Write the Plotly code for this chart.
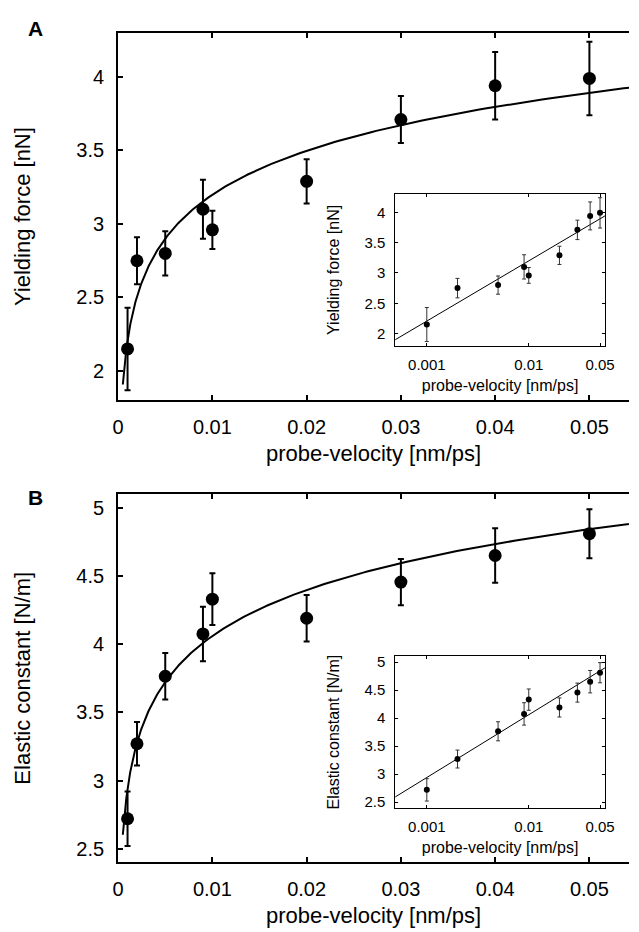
import numpy as np
import plotly.graph_objects as go

# ---- data ----
velocity = [0.001, 0.002, 0.005, 0.009, 0.01, 0.02, 0.03, 0.04, 0.05]
yield_force = [2.15, 2.75, 2.80, 3.10, 2.96, 3.29, 3.71, 3.94, 3.99]
yield_force_err = [0.28, 0.16, 0.15, 0.20, 0.13, 0.15, 0.16, 0.23, 0.25]
elastic_const = [2.72, 3.27, 3.765, 4.075, 4.33, 4.19, 4.455, 4.65, 4.81]
elastic_const_err = [0.20, 0.16, 0.17, 0.20, 0.19, 0.17, 0.17, 0.20, 0.18]
# logarithmic fits: y = a + b*log10(v)
force_fit = [5.183, 0.992]
elastic_fit = [6.30, 1.12]

main_xticks = [0, 0.01, 0.02, 0.03, 0.04, 0.05]
main_xticklabels = ["0", "0.01", "0.02", "0.03", "0.04", "0.05"]
inset_xticks = [0.001, 0.01, 0.05]
inset_xticklabels = ["0.001", "0.01", "0.05"]
force_yticks = [2, 2.5, 3, 3.5, 4]
elastic_yticks = [2.5, 3, 3.5, 4, 4.5, 5]

W, H = 639, 932
FONT = "Liberation Sans, Arial, Helvetica, sans-serif"

def fx(px):
    return px / W

def fy(py):
    return 1 - py / H

fig = go.Figure()

v_main = np.logspace(np.log10(0.0005), np.log10(0.06), 300)
v_ins = np.logspace(np.log10(0.00045), np.log10(0.06), 300)

def add_panel(y, yerr, fit, xa_main, ya_main, xa_ins, ya_ins):
    vm = np.asarray(velocity)
    # main
    fig.add_trace(go.Scatter(x=v_main, y=fit[0] + fit[1] * np.log10(v_main), mode="lines",
                             line=dict(color="black", width=2), xaxis=xa_main, yaxis=ya_main,
                             showlegend=False, hoverinfo="skip"))
    fig.add_trace(go.Scatter(x=vm, y=y, mode="markers",
                             marker=dict(color="black", size=13),
                             error_y=dict(type="data", array=yerr, color="black", thickness=2, width=3),
                             xaxis=xa_main, yaxis=ya_main, showlegend=False))
    # inset
    fig.add_trace(go.Scatter(x=v_ins, y=fit[0] + fit[1] * np.log10(v_ins), mode="lines",
                             line=dict(color="black", width=1), xaxis=xa_ins, yaxis=ya_ins,
                             showlegend=False, hoverinfo="skip"))
    fig.add_trace(go.Scatter(x=vm, y=y, mode="markers",
                             marker=dict(color="black", size=6),
                             error_y=dict(type="data", array=yerr, color="#333333", thickness=1, width=2),
                             xaxis=xa_ins, yaxis=ya_ins, showlegend=False))

add_panel(yield_force, yield_force_err, force_fit, "x", "y", "x2", "y2")
add_panel(elastic_const, elastic_const_err, elastic_fit, "x3", "y3", "x4", "y4")

main_ax = dict(showline=True, linecolor="black", linewidth=2, ticks="inside", ticklen=5,
               tickwidth=2, tickcolor="black", showgrid=False, zeroline=False,
               tickfont=dict(family=FONT, size=20, color="black"))
ins_ax = dict(showline=True, linecolor="black", linewidth=1, ticks="inside", ticklen=3,
              tickwidth=1, tickcolor="black", showgrid=False, zeroline=False, mirror="ticks",
              tickfont=dict(family=FONT, size=15, color="black"))

def main_x(anchor, title):
    d = dict(main_ax)
    d.update(domain=[fx(115), 1], range=[0, 0.0542], anchor=anchor, mirror="ticks",
             tickvals=main_xticks, ticktext=main_xticklabels, ticklabelstandoff=8,
             title=dict(text=title, font=dict(family=FONT, size=22, color="black"), standoff=8))
    return d

def main_y(anchor, dom, rng, ticks, title):
    d = dict(main_ax)
    d.update(domain=dom, range=rng, anchor=anchor, mirror=False, tickvals=ticks,
             ticklabelstandoff=8,
             title=dict(text=title, font=dict(family=FONT, size=22, color="black"), standoff=40))
    return d

def ins_x(anchor, title):
    d = dict(ins_ax)
    d.update(domain=[fx(399.3), fx(614.3)], type="log", range=[-3.309, -1.253], anchor=anchor,
             tickvals=inset_xticks, ticktext=inset_xticklabels, ticklabelstandoff=5,
             title=dict(text=title, font=dict(family=FONT, size=16, color="black"), standoff=8))
    return d

def ins_y(anchor, dom, rng, ticks, title):
    d = dict(ins_ax)
    d.update(domain=dom, range=rng, anchor=anchor, tickvals=ticks, ticklabelstandoff=6,
             title=dict(text=title, font=dict(family=FONT, size=16, color="black"), standoff=20))
    return d

fig.update_layout(
    width=W, height=H,
    margin=dict(l=0, r=0, t=0, b=0),
    paper_bgcolor="white", plot_bgcolor="white",
    font=dict(family=FONT, color="black"),
    xaxis=main_x("y", "probe-velocity [nm/ps]"),
    yaxis=main_y("x", [fy(400), fy(30)], [1.8, 4.3], force_yticks, "Yielding force [nN]"),
    xaxis2=ins_x("y2", "probe-velocity [nm/ps]"),
    yaxis2=ins_y("x2", [fy(345), fy(192.3)], [1.8, 4.3], force_yticks, "Yielding force [nN]"),
    xaxis3=main_x("y3", "probe-velocity [nm/ps]"),
    yaxis3=main_y("x3", [fy(865), fy(494.3)], [2.4, 5.1], elastic_yticks, "Elastic constant [N/m]"),
    xaxis4=ins_x("y4", "probe-velocity [nm/ps]"),
    yaxis4=ins_y("x4", [fy(810), fy(657.7)], [2.4, 5.1], elastic_yticks, "Elastic constant [N/m]"),
    annotations=[
        dict(text="<b>A</b>", x=fx(30), y=fy(25.5), xref="paper", yref="paper", showarrow=False,
             xanchor="center", yanchor="middle",
             font=dict(family=FONT, size=21, color="black")),
        dict(text="<b>B</b>", x=fx(30), y=fy(497.5), xref="paper", yref="paper", showarrow=False,
             xanchor="center", yanchor="middle",
             font=dict(family=FONT, size=21, color="black")),
    ],
)

fig.write_html("out.html", config={"displayModeBar": False},
               post_script="document.body.style.margin='0';document.body.style.padding='0';")
